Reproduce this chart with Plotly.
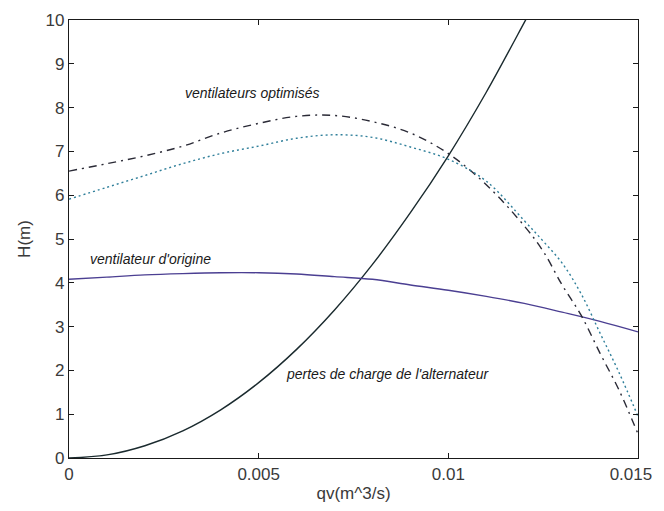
import plotly.graph_objects as go

# Pertes de charge de l'alternateur (solid black)
q_pertes = [0, 0.001, 0.002, 0.003, 0.004, 0.005, 0.006, 0.007, 0.008, 0.009, 0.010, 0.011, 0.012, 0.0121]
h_pertes = [0, 0.07, 0.28, 0.62, 1.10, 1.72, 2.48, 3.38, 4.42, 5.60, 6.90, 8.35, 9.94, 10.1]

# Ventilateur d'origine (solid purple)
q_orig = [0, 0.001, 0.002, 0.003, 0.004, 0.005, 0.006, 0.007, 0.008, 0.009, 0.010, 0.011, 0.012, 0.013, 0.014, 0.015]
h_orig = [4.08, 4.13, 4.18, 4.21, 4.23, 4.23, 4.20, 4.14, 4.08, 3.95, 3.83, 3.69, 3.53, 3.33, 3.12, 2.88]

# Ventilateurs optimisés (dash-dot)
q_opt1 = [0, 0.001, 0.002, 0.003, 0.004, 0.005, 0.006, 0.007, 0.008, 0.009, 0.010, 0.011, 0.012, 0.0125, 0.013, 0.0135, 0.014, 0.0145, 0.015]
h_opt1 = [6.55, 6.72, 6.90, 7.12, 7.42, 7.64, 7.80, 7.82, 7.68, 7.42, 6.95, 6.24, 5.30, 4.72, 3.95, 3.26, 2.39, 1.55, 0.55]

# Ventilateurs optimisés (dotted)
q_opt2 = [0, 0.001, 0.002, 0.003, 0.004, 0.005, 0.006, 0.007, 0.008, 0.009, 0.010, 0.011, 0.012, 0.0125, 0.013, 0.0135, 0.014, 0.0145, 0.015]
h_opt2 = [5.91, 6.18, 6.45, 6.72, 6.95, 7.12, 7.30, 7.38, 7.32, 7.10, 6.82, 6.32, 5.42, 4.95, 4.45, 3.75, 2.85, 1.95, 0.95]

x_ticks = [0, 0.005, 0.01, 0.015]
x_ticklabels = ["0", "0.005", "0.01", "0.015\u00a0\u00a0\u00a0"]
y_ticks = list(range(0, 11))

labels = ["ventilateurs optimisés", "ventilateur d'origine", "pertes de charge de l'alternateur"]
label_q = [0.00485, 0.00215, 0.0084]
label_h = [8.33, 4.54, 1.92]

fig = go.Figure()
fig.add_trace(go.Scatter(x=q_pertes, y=h_pertes, mode="lines", line_shape="spline",
                         line=dict(color="#1a2a2e", width=1.4), showlegend=False))
fig.add_trace(go.Scatter(x=q_orig, y=h_orig, mode="lines", line_shape="spline",
                         line=dict(color="#4b3f92", width=1.4), showlegend=False))
fig.add_trace(go.Scatter(x=q_opt1, y=h_opt1, mode="lines", line_shape="spline",
                         line=dict(color="#2a2a36", width=1.4, dash="8px,5px,2px,5px"), showlegend=False))
fig.add_trace(go.Scatter(x=q_opt2, y=h_opt2, mode="lines", line_shape="spline",
                         line=dict(color="#2f7f9a", width=1.4, dash="2px,3px"), showlegend=False))

for t, xq, yh in zip(labels, label_q, label_h):
    fig.add_annotation(x=xq, y=yh, text="<i>" + t + "</i>", showarrow=False,
                       font=dict(family="Liberation Sans", size=14, color="#1a1a1a"))

axis_common = dict(showgrid=False, zeroline=False, showline=True, linecolor="#1a1a1a",
                   linewidth=1.2, mirror="ticks", ticks="inside", ticklen=5,
                   tickcolor="#1a1a1a", automargin=False, ticklabeloverflow="allow",
                   tickfont=dict(family="Liberation Sans", size=17, color="#3a3a3a"))

fig.update_xaxes(range=[0, 0.015], tickvals=x_ticks, ticktext=x_ticklabels,
                 title=dict(text="qv(m^3/s)", standoff=4,
                            font=dict(family="Liberation Sans", size=17, color="#3a3a3a")),
                 **axis_common)
fig.update_yaxes(range=[0, 10], tickvals=y_ticks,
                 title=dict(text="H(m)", standoff=10,
                            font=dict(family="Liberation Sans", size=17, color="#3a3a3a")),
                 **axis_common)

# the page body adds an 8px margin, so the figure is sized to fit the window
fig.update_layout(width=656, height=495, plot_bgcolor="white", paper_bgcolor="white",
                  margin=dict(l=61, r=26, t=12, b=45))

fig.write_html("out.html")
